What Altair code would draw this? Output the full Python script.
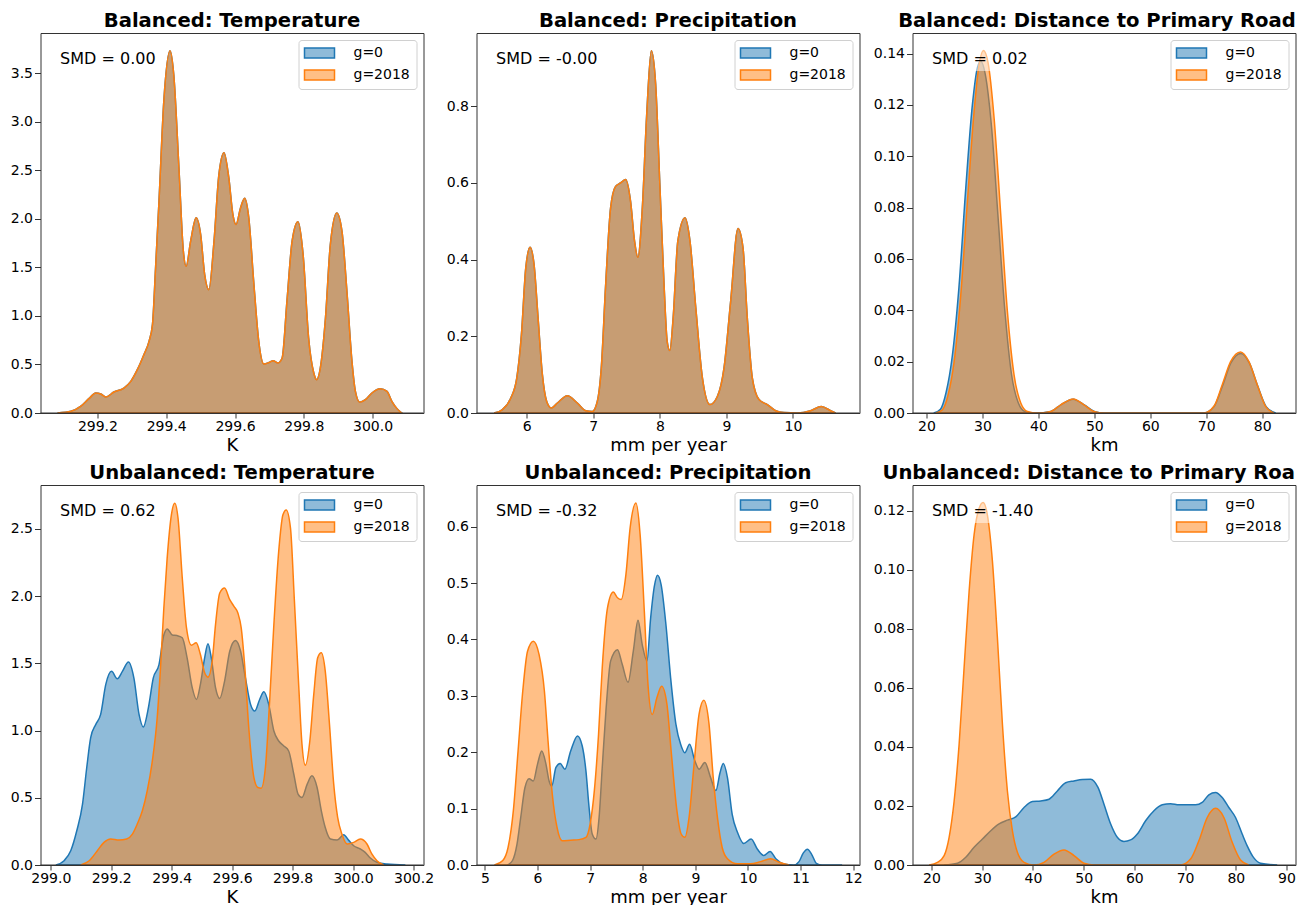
import altair as alt
import pandas as pd

FONT = "DejaVu Sans"
FRAME = "#333333"
GROUPS = ["g=0", "g=2018"]
COLORS = ["#1f77b4", "#ff7f0e"]

# ---------------- data ----------------
# Balanced: Temperature (both groups coincide)
B_TEMP_X = [299.084, 299.123, 299.152, 299.176, 299.195, 299.210, 299.224, 299.248, 299.277, 299.297,
            299.316, 299.335, 299.350, 299.360, 299.369, 299.379, 299.393, 299.411, 299.422, 299.437,
            299.450, 299.458, 299.471, 299.487, 299.500, 299.512, 299.524, 299.539, 299.553, 299.568,
            299.582, 299.594, 299.603, 299.616, 299.628, 299.640, 299.655, 299.669, 299.684, 299.699,
            299.711, 299.725, 299.737, 299.751, 299.766, 299.783, 299.798, 299.814, 299.829, 299.837,
            299.848, 299.863, 299.877, 299.896, 299.911, 299.926, 299.940, 299.950, 299.963, 299.979,
            299.998, 300.022, 300.042, 300.056, 300.071, 300.085]
B_TEMP_Y = [0.0, 0.017, 0.07, 0.15, 0.205, 0.195, 0.165, 0.216, 0.257, 0.326,
            0.446, 0.60, 0.738, 0.909, 1.49, 2.18, 3.21, 3.73, 3.48, 2.52,
            1.66, 1.51, 1.77, 2.01, 1.84, 1.42, 1.27, 1.77, 2.45, 2.68,
            2.42, 2.04, 1.94, 2.11, 2.21, 2.01, 1.32, 0.738, 0.504, 0.52,
            0.539, 0.515, 0.566, 1.15, 1.77, 1.97, 1.63, 0.772, 0.412, 0.343,
            0.463, 0.978, 1.73, 2.06, 1.87, 1.22, 0.532, 0.223, 0.11, 0.137,
            0.206, 0.25, 0.223, 0.12, 0.045, 0.0]

# Balanced: Precipitation (both groups coincide)
B_PREC_X = [5.51, 5.635, 5.76, 5.85, 5.92, 5.985, 6.05, 6.11, 6.17, 6.235,
            6.30, 6.37, 6.46, 6.61, 6.76, 6.886, 6.986, 7.06, 7.12, 7.186,
            7.26, 7.335, 7.41, 7.487, 7.56, 7.62, 7.67, 7.737, 7.80, 7.872,
            7.937, 8.00, 8.063, 8.11, 8.15, 8.20, 8.27, 8.378, 8.453, 8.54,
            8.64, 8.753, 8.864, 8.964, 9.064, 9.174, 9.25, 9.314, 9.39, 9.49,
            9.615, 9.74, 9.865, 10.065, 10.265, 10.426, 10.566, 10.64]
B_PREC_Y = [0.0, 0.009, 0.039, 0.091, 0.204, 0.378, 0.432, 0.387, 0.248, 0.10,
            0.03, 0.013, 0.026, 0.045, 0.026, 0.006, 0.004, 0.03, 0.117, 0.335,
            0.535, 0.591, 0.60, 0.609, 0.552, 0.448, 0.406, 0.535, 0.77, 0.945,
            0.857, 0.596, 0.335, 0.187, 0.163, 0.248, 0.448, 0.509, 0.448, 0.274,
            0.091, 0.022, 0.043, 0.117, 0.291, 0.481, 0.43, 0.248, 0.091, 0.035,
            0.022, 0.006, 0.001, 0.0, 0.006, 0.017, 0.006, 0.0]

# Balanced: Distance to Primary Road
B_DIST_X0 = [21.3, 22.5, 23.5, 24.6, 25.8, 27.0, 28.2, 29.1, 29.7, 30.5,
             31.6, 32.8, 34.0, 35.2, 36.4, 37.6, 39.5, 42.2, 44.0, 46.2,
             48.2, 50.0, 51.8, 69.6, 71.4, 72.9, 74.4, 76.2, 77.7, 79.2,
             80.7, 82.4]
B_DIST_Y0 = [0.0, 0.0015, 0.008, 0.022, 0.049, 0.087, 0.120, 0.1345, 0.137, 0.132,
             0.112, 0.076, 0.040, 0.015, 0.004, 0.0006, 0.0, 0.0006, 0.0032, 0.0054,
             0.0032, 0.0006, 0.0, 0.0, 0.0025, 0.0105, 0.0195, 0.0232, 0.0195, 0.0105,
             0.0025, 0.0]
B_DIST_X1 = [21.67, 22.86, 23.87, 24.94, 26.13, 27.32, 28.51, 29.40, 30.18, 31.01,
             32.08, 33.27, 34.46, 35.65, 36.85, 38.04, 39.82, 42.20, 43.99, 46.25,
             48.15, 49.94, 51.73, 69.58, 71.37, 72.86, 74.35, 76.13, 77.62, 79.11,
             80.60, 82.08]
B_DIST_Y1 = [0.0, 0.0013, 0.0071, 0.020, 0.046, 0.0825, 0.1175, 0.1357, 0.1412, 0.1364,
             0.115, 0.0773, 0.0396, 0.0149, 0.0039, 0.0006, 0.0, 0.0006, 0.0032, 0.0055,
             0.0032, 0.0006, 0.0, 0.0, 0.0026, 0.011, 0.020, 0.0238, 0.020, 0.011,
             0.0026, 0.0]

# Unbalanced: Temperature
U_TEMP_X0 = [299.017, 299.044, 299.066, 299.086, 299.105, 299.119, 299.132, 299.149, 299.165, 299.182,
             299.201, 299.220, 299.237, 299.257, 299.275, 299.292, 299.306, 299.323, 299.339, 299.358,
             299.374, 299.385, 299.402, 299.418, 299.435, 299.451, 299.468, 299.482, 299.495, 299.509,
             299.520, 299.531, 299.545, 299.559, 299.575, 299.592, 299.611, 299.628, 299.644, 299.661,
             299.675, 299.691, 299.705, 299.721, 299.738, 299.754, 299.771, 299.787, 299.804, 299.818,
             299.831, 299.848, 299.864, 299.881, 299.895, 299.908, 299.925, 299.947, 299.969, 299.985,
             300.002, 300.024, 300.040, 300.057, 300.079, 300.112, 300.173]
U_TEMP_Y0 = [0.0, 0.032, 0.106, 0.255, 0.453, 0.725, 0.947, 1.046, 1.12, 1.343,
             1.44, 1.385, 1.44, 1.51, 1.39, 1.12, 1.026, 1.17, 1.39, 1.49,
             1.71, 1.756, 1.71, 1.706, 1.69, 1.54, 1.318, 1.231, 1.343, 1.54,
             1.645, 1.54, 1.318, 1.239, 1.367, 1.59, 1.67, 1.59, 1.39, 1.194,
             1.145, 1.231, 1.288, 1.194, 0.997, 0.922, 0.885, 0.848, 0.675, 0.527,
             0.502, 0.60, 0.663, 0.576, 0.403, 0.279, 0.193, 0.185, 0.225, 0.185,
             0.143, 0.119, 0.094, 0.052, 0.02, 0.007, 0.0]
U_TEMP_X1 = [299.099, 299.127, 299.154, 299.176, 299.198, 299.226, 299.251, 299.270, 299.286, 299.303,
             299.319, 299.336, 299.352, 299.363, 299.374, 299.385, 299.399, 299.410, 299.421, 299.435,
             299.449, 299.465, 299.481, 299.495, 299.509, 299.520, 299.534, 299.545, 299.559, 299.575,
             299.592, 299.606, 299.619, 299.630, 299.642, 299.655, 299.672, 299.685, 299.696, 299.710,
             299.724, 299.738, 299.754, 299.768, 299.779, 299.793, 299.806, 299.820, 299.831, 299.842,
             299.857, 299.870, 299.883, 299.895, 299.908, 299.922, 299.936, 299.949, 299.963, 299.980,
             300.002, 300.024, 300.046, 300.062, 300.079, 300.101]
U_TEMP_Y1 = [0.0, 0.032, 0.106, 0.168, 0.193, 0.185, 0.193, 0.23, 0.304, 0.403,
             0.551, 0.774, 1.095, 1.466, 1.911, 2.282, 2.604, 2.69, 2.579, 2.134,
             1.763, 1.635, 1.652, 1.565, 1.429, 1.397, 1.516, 1.788, 2.023, 2.06,
             1.973, 1.924, 1.874, 1.763, 1.466, 1.021, 0.65, 0.576, 0.571, 0.725,
             1.219, 1.788, 2.332, 2.604, 2.641, 2.505, 1.961, 1.343, 0.898, 0.742,
             0.922, 1.269, 1.541, 1.578, 1.442, 1.046, 0.601, 0.354, 0.23, 0.156,
             0.168, 0.193, 0.156, 0.082, 0.032, 0.0]

# Unbalanced: Precipitation
U_PREC_X0 = [5.43, 5.525, 5.61, 5.68, 5.76, 5.84, 5.92, 6.00, 6.08, 6.16,
             6.22, 6.27, 6.35, 6.43, 6.52, 6.63, 6.76, 6.85, 6.92, 6.98,
             7.04, 7.11, 7.17, 7.23, 7.30, 7.39, 7.52, 7.61, 7.72, 7.82,
             7.91, 7.99, 8.08, 8.15, 8.22, 8.28, 8.35, 8.44, 8.53, 8.63,
             8.72, 8.80, 8.89, 8.99, 9.07, 9.18, 9.29, 9.39, 9.47, 9.53,
             9.61, 9.70, 9.80, 9.92, 10.06, 10.18, 10.30, 10.42, 10.53, 10.68,
             10.87, 10.97, 11.05, 11.13, 11.21, 11.30, 11.41, 11.79]
U_PREC_Y0 = [0.0, 0.008, 0.037, 0.084, 0.137, 0.153, 0.149, 0.179, 0.202, 0.179,
             0.149, 0.14, 0.173, 0.18, 0.17, 0.202, 0.229, 0.211, 0.167, 0.102,
             0.055, 0.046, 0.084, 0.173, 0.273, 0.362, 0.382, 0.356, 0.324, 0.379,
             0.434, 0.391, 0.362, 0.438, 0.494, 0.514, 0.497, 0.427, 0.332, 0.25,
             0.214, 0.199, 0.214, 0.185, 0.17, 0.182, 0.155, 0.132, 0.164, 0.18,
             0.155, 0.09, 0.058, 0.038, 0.046, 0.028, 0.017, 0.024, 0.011, 0.002,
             0.0, 0.006, 0.021, 0.028, 0.019, 0.003, 0.0, 0.0]
U_PREC_X1 = [5.18, 5.34, 5.44, 5.54, 5.63, 5.72, 5.81, 5.92, 6.03, 6.13,
             6.20, 6.28, 6.37, 6.47, 6.63, 6.79, 6.92, 7.00, 7.08, 7.16,
             7.23, 7.33, 7.44, 7.52, 7.59, 7.68, 7.76, 7.87, 7.95, 8.03,
             8.10, 8.18, 8.27, 8.36, 8.46, 8.54, 8.65, 8.73, 8.80, 8.88,
             8.97, 9.07, 9.16, 9.26, 9.34, 9.42, 9.51, 9.61, 9.80, 10.05,
             10.24, 10.43, 10.59, 10.78]
U_PREC_Y1 = [0.0, 0.008, 0.031, 0.096, 0.202, 0.309, 0.379, 0.397, 0.373, 0.309,
             0.22, 0.126, 0.067, 0.043, 0.044, 0.045, 0.049, 0.073, 0.132, 0.232,
             0.35, 0.456, 0.484, 0.474, 0.471, 0.515, 0.598, 0.642, 0.586, 0.45,
             0.32, 0.267, 0.297, 0.317, 0.285, 0.202, 0.096, 0.055, 0.049, 0.084,
             0.173, 0.267, 0.292, 0.25, 0.155, 0.084, 0.031, 0.011, 0.002, 0.002,
             0.006, 0.011, 0.005, 0.0]

# Unbalanced: Distance to Primary Road
U_DIST_X0 = [22.5, 25.12, 26.76, 28.40, 30.05, 31.69, 33.33, 34.97, 36.61, 38.25,
             39.90, 41.54, 43.18, 44.82, 46.46, 48.10, 49.74, 51.39, 52.83, 54.01,
             55.33, 56.64, 57.95, 59.26, 60.58, 62.22, 63.86, 65.50, 67.14, 68.79,
             70.43, 72.07, 73.38, 74.69, 76.01, 77.32, 78.63, 79.95, 81.26, 82.25,
             83.56, 84.87, 88.16]
U_DIST_Y0 = [0.0, 0.0006, 0.0026, 0.006, 0.0088, 0.0116, 0.0139, 0.0152, 0.0163, 0.0195,
             0.0215, 0.0217, 0.0223, 0.0251, 0.0279, 0.0285, 0.029, 0.0291, 0.0263, 0.0206,
             0.0139, 0.0094, 0.008, 0.0085, 0.0105, 0.015, 0.0184, 0.0204, 0.0208, 0.0204,
             0.0204, 0.0204, 0.0212, 0.0238, 0.0246, 0.0229, 0.0195, 0.0161, 0.0105, 0.0065,
             0.0024, 0.0006, 0.0]
U_DIST_X1 = [19.54, 21.18, 22.50, 23.48, 24.47, 25.45, 26.43, 27.42, 28.40, 29.39,
             30.18, 31.03, 32.02, 33.00, 33.99, 34.97, 35.96, 36.94, 38.25, 40.22,
             42.19, 44.16, 46.13, 48.10, 50.07, 52.04, 69.11, 71.08, 72.72, 74.37,
             76.01, 77.65, 79.29, 80.93, 82.57]
U_DIST_Y1 = [0.0, 0.0009, 0.0032, 0.0094, 0.0217, 0.0409, 0.0668, 0.0927, 0.1119, 0.1209,
             0.1229, 0.1186, 0.1029, 0.077, 0.0477, 0.0251, 0.0116, 0.0043, 0.0009, 0.0,
             0.0009, 0.0037, 0.0051, 0.0032, 0.0006, 0.0, 0.0, 0.002, 0.0082, 0.0161,
             0.0192, 0.0161, 0.0077, 0.0017, 0.0]

TITLES = ["Balanced: Temperature", "Balanced: Precipitation", "Balanced: Distance to Primary Road",
          "Unbalanced: Temperature", "Unbalanced: Precipitation", "Unbalanced: Distance to Primary Roa"]
SMD_LABELS = ["SMD = 0.00", "SMD = -0.00", "SMD = 0.02", "SMD = 0.62", "SMD = -0.32", "SMD = -1.40"]
X_TITLES = ["K", "mm per year", "km", "K", "mm per year", "km"]
X_TICKS = [[299.2, 299.4, 299.6, 299.8, 300.0], [6, 7, 8, 9, 10], [20, 30, 40, 50, 60, 70, 80],
           [299.0, 299.2, 299.4, 299.6, 299.8, 300.0, 300.2], [5, 6, 7, 8, 9, 10, 11, 12],
           [20, 30, 40, 50, 60, 70, 80, 90]]
Y_TICKS = [[0, 0.5, 1.0, 1.5, 2.0, 2.5, 3.0, 3.5], [0, 0.2, 0.4, 0.6, 0.8],
           [0, 0.02, 0.04, 0.06, 0.08, 0.10, 0.12, 0.14], [0, 0.5, 1.0, 1.5, 2.0, 2.5],
           [0, 0.1, 0.2, 0.3, 0.4, 0.5, 0.6], [0, 0.02, 0.04, 0.06, 0.08, 0.10, 0.12]]
X_FMT = [".1f", "d", "d", ".1f", "d", "d"]
Y_FMT = [".1f", ".1f", ".2f", ".1f", ".1f", ".2f"]
X_DOMAINS = [[299.0345, 300.148], [5.245, 11.0], [17.5, 85.95],
             [298.966, 300.233], [4.84, 12.12], [16.26, 91.77]]
Y_DOMAINS = [[0, 3.912], [0, 0.991], [0, 0.148], [0, 2.826], [0, 0.674], [0, 0.1288]]
TITLE_DX = [0, 0, -7, 0, 0, -30]

SERIES = [
    (B_TEMP_X, B_TEMP_Y, B_TEMP_X, B_TEMP_Y),
    (B_PREC_X, B_PREC_Y, B_PREC_X, B_PREC_Y),
    (B_DIST_X0, B_DIST_Y0, B_DIST_X1, B_DIST_Y1),
    (U_TEMP_X0, U_TEMP_Y0, U_TEMP_X1, U_TEMP_Y1),
    (U_PREC_X0, U_PREC_Y0, U_PREC_X1, U_PREC_Y1),
    (U_DIST_X0, U_DIST_Y0, U_DIST_X1, U_DIST_Y1),
]

W, H = 383, 380

legend = alt.Legend(
    title=None, orient="top-right", offset=7, padding=6,
    strokeColor="#d0d0d0", fillColor="rgba(255,255,255,0.8)", cornerRadius=3,
    symbolType="M-3,-1H3V1H-3Z", symbolSize=100, symbolOffset=8, symbolStrokeWidth=1.5,
    labelOffset=27, labelFont=FONT, labelFontSize=14, labelColor="black", rowPadding=6,
)


def panel(i):
    x0, y0, x1, y1 = SERIES[i]
    df = pd.DataFrame({
        "x": list(x0) + list(x1),
        "y": list(y0) + list(y1),
        "g": [GROUPS[0]] * len(x0) + [GROUPS[1]] * len(x1),
    })
    cscale = alt.Scale(domain=GROUPS, range=COLORS)
    xs = alt.Scale(domain=X_DOMAINS[i], nice=False, zero=False)
    ys = alt.Scale(domain=Y_DOMAINS[i], nice=False, zero=False)
    area = alt.Chart(df).mark_area(interpolate="monotone", clip=True).encode(
        x=alt.X("x:Q", scale=xs, axis=alt.Axis(values=X_TICKS[i], format=X_FMT[i], title=X_TITLES[i])),
        y=alt.Y("y:Q", scale=ys, stack=None,
                axis=alt.Axis(values=Y_TICKS[i], format=Y_FMT[i], title=None)),
        fill=alt.Fill("g:N", scale=cscale, legend=legend),
        stroke=alt.Stroke("g:N", scale=cscale, legend=legend),
    )
    base = alt.Chart(pd.DataFrame({"zero": [0]})).mark_rule(color=FRAME, strokeWidth=1).encode(
        y=alt.datum(0)
    )
    lab = pd.DataFrame({"label": [SMD_LABELS[i]]})
    box = alt.Chart(lab).mark_rect(color="white", opacity=0.5).encode(
        x=alt.value(15), x2=alt.value(123), y=alt.value(12), y2=alt.value(38)
    )
    txt = alt.Chart(lab).mark_text(
        align="left", baseline="alphabetic", font=FONT, fontSize=16, color="black"
    ).encode(x=alt.value(19.6), y=alt.value(30.8), text="label:N")
    if i == 5:
        title = alt.Title(TITLES[i], anchor="start", frame="group", dx=TITLE_DX[i])
    else:
        title = alt.Title(TITLES[i], anchor="middle", dx=TITLE_DX[i])
    return alt.layer(area, base, box, txt).properties(width=W, height=H, title=title)


chart = alt.concat(
    *[panel(i) for i in range(6)], columns=3,
    spacing={"row": 72, "column": 53}, bounds="flush",
).resolve_scale(
    fill="independent", stroke="independent"
).properties(
    padding={"left": 9.5, "top": 10, "right": 2, "bottom": 0}
).configure(
    font=FONT
).configure_area(
    fillOpacity=0.5, strokeWidth=1.5
).configure_view(
    stroke=FRAME, strokeWidth=1
).configure_axis(
    domain=False, grid=False, tickColor=FRAME, tickWidth=1,
    labelFont=FONT, labelFontSize=14, labelColor="black",
    titleFont=FONT, titleFontSize=18, titleFontWeight="normal", titleColor="black",
    labelFlush=False, labelOverlap=False,
).configure_axisX(
    tickSize=5, labelPadding=1, titlePadding=3
).configure_axisY(
    tickSize=6, labelPadding=2
).configure_title(
    font=FONT, fontSize=19.6, fontWeight="bold", color="black", baseline="alphabetic", offset=1
)

chart.save("out.html", embed_options={"renderer": "svg", "actions": False})
